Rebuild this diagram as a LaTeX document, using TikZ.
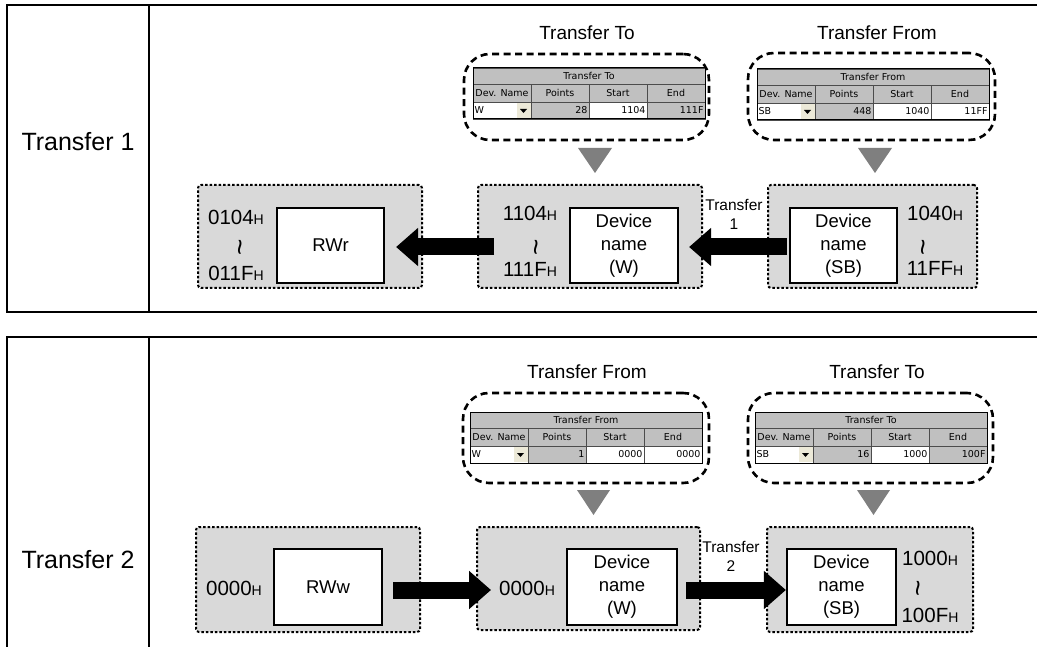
\documentclass[tikz,border=0pt]{standalone}
\usepackage{fontspec}
\setmainfont{Liberation Sans}
\newfontfamily\tabfam{DejaVu Sans}
\usetikzlibrary{arrows.meta,calc}
\definecolor{boxgray}{HTML}{D9D9D9}
\definecolor{tgray}{HTML}{C0C0C0}
\definecolor{trigray}{HTML}{7F7F7F}
\definecolor{btnbeige}{HTML}{ECE9D8}
\newcommand\hx{{\fontsize{14}{14}\selectfont H}}
\newcommand\tabfont{\tabfam\fontsize{9.5}{11}\selectfont}
\tikzset{
  frameline/.style={line width=1.3pt},
  rowlabel/.style={font=\fontsize{25}{28}\selectfont},
  toplabel/.style={font=\fontsize{19}{22}\selectfont},
  callout/.style={draw, line width=2.6pt, dash pattern=on 7pt off 4.5pt, rounded corners=26pt, inner sep=0pt},
  graybox/.style={draw, fill=boxgray, line width=2pt, dash pattern=on 2.5pt off 2pt, rounded corners=3pt, inner sep=0pt},
  whitebox/.style={draw, fill=white, line width=2.2pt, inner sep=0pt, align=center, font=\fontsize{18.5}{23}\selectfont},
  addr/.style={font=\fontsize{20.5}{24}\selectfont, inner sep=0pt},
  wave/.style={font=\fontsize{28}{30}\selectfont, rotate=90, inner sep=0pt},
  xferlabel/.style={align=center, font=\fontsize{15.5}{19}\selectfont, inner sep=0pt},
  bigarrow/.style={line width=17pt, -{Triangle[length=22pt,width=37pt]}},
  tri/.style={fill=trigray},
  tcell/.style={draw=black!70, line width=0.6pt, inner sep=0pt, outer sep=0pt, font=\tabfont},
}
\newcommand\devtable[9]{%
\begin{scope}[shift={(#2,#3)}]
\node[tcell,fill=tgray,minimum width=232pt,minimum height=16pt] (#1t) at (116,8) {#4};
\node[tcell,fill=tgray,minimum width=58pt,minimum height=18pt] (#1c1) at (29,25) {Dev. Name};
\node[tcell,fill=tgray,minimum width=58pt,minimum height=18pt] (#1c2) at (87,25) {Points};
\node[tcell,fill=tgray,minimum width=58pt,minimum height=18pt] (#1c3) at (145,25) {Start};
\node[tcell,fill=tgray,minimum width=58pt,minimum height=18pt] (#1c4) at (203,25) {End};
\node[tcell,fill=white,minimum width=58pt,minimum height=17pt,text width=55pt,align=left] (#1d1) at (29,42.5) {#5};
\node[tcell,fill=btnbeige,draw=none,minimum width=14pt,minimum height=15pt] (#1b) at (50.5,42.5) {};
\fill (#1b.center) ++(-3.5,-1.5) -- ++(7,0) -- ++(-3.5,4) -- cycle;
\node[tcell,fill=tgray,minimum width=58pt,minimum height=17pt,text width=55pt,align=right] (#1d2) at (87,42.5) {#6};
\node[tcell,fill=white,minimum width=58pt,minimum height=17pt,text width=55pt,align=right] (#1d3) at (145,42.5) {#7};
\node[tcell,fill=#9,minimum width=58pt,minimum height=17pt,text width=55pt,align=right] (#1d4) at (203,42.5) {#8};
\draw[line width=1pt] (#1t.north west) rectangle (#1d4.south east);
\end{scope}}
\begin{document}
\begin{tikzpicture}[x=1pt,y=-1pt]
\useasboundingbox (0,0) rectangle (1037,647);
% ---------- frames ----------
\draw[frameline] (1037,5) -- (7,5) -- (7,312) -- (1037,312);
\draw[frameline] (149,5) -- (149,312);
\draw[frameline] (1037,337) -- (7,337) -- (7,647);
\draw[frameline] (149,337) -- (149,647);
\node[rowlabel] (r1) at (78,142) {Transfer 1};
\node[rowlabel] (r2) at (78,560) {Transfer 2};
% ================= Transfer 1 =================
\node[toplabel] (l1) at (587,33) {Transfer To};
\node[toplabel] (l2) at (877,33) {Transfer From};
\node[callout, minimum width=245pt, minimum height=86pt] (co1) at (586.5,97) {};
\node[callout, minimum width=247pt, minimum height=87pt] (co2) at (871.5,96.5) {};
\devtable{ta}{473}{68}{Transfer To}{W}{28}{1104}{111F}{tgray}
\devtable{tb}{757}{69}{Transfer From}{SB}{448}{1040}{11FF}{white}
\fill[tri] (578,148) -- (612,148) -- (595,173) -- cycle;
\fill[tri] (858,148) -- (892,148) -- (875,173) -- cycle;
% boxes
\node[graybox, minimum width=224pt, minimum height=103pt] (A) at (310,236.5) {};
\node[whitebox, minimum width=107pt, minimum height=75pt] (wA) at (330.5,245.5) {RWr};
\node[addr] (a1) at (236,217) {0104\hx};
\node[wave] (a2) at (244,247) {\char`\~};
\node[addr] (a3) at (236,273) {011F\hx};
\node[graybox, minimum width=224pt, minimum height=103pt] (B) at (590,236.5) {};
\node[whitebox, minimum width=108pt, minimum height=75pt] (wB) at (624,245.5) {Device\\name\\(W)};
\node[addr] (b1) at (530,213) {1104\hx};
\node[wave] (b2) at (540,247) {\char`\~};
\node[addr] (b3) at (530,269) {111F\hx};
\node[graybox, minimum width=209pt, minimum height=103pt] (C) at (872.5,236.5) {};
\node[whitebox, minimum width=107pt, minimum height=75pt] (wC) at (843.5,245.5) {Device\\name\\(SB)};
\node[addr] (c1) at (935,213) {1040\hx};
\node[wave] (c2) at (927,247) {\char`\~};
\node[addr] (c3) at (935,268) {11FF\hx};
\node[xferlabel] (x1) at (734,214) {Transfer\\1};
\draw[bigarrow] ($(wC.west)+(-2,1.5)$) -- ($(wB.east)+(10,1.5)$);
\draw[bigarrow] ($(B.west |- wA.east)+(17,1.5)$) -- ($(wA.east)+(11,1.5)$);
% ================= Transfer 2 =================
\node[toplabel] (l3) at (587,372) {Transfer From};
\node[toplabel] (l4) at (877,372) {Transfer To};
\node[callout, minimum width=246pt, minimum height=90pt] (co3) at (586,438) {};
\node[callout, minimum width=245pt, minimum height=90pt] (co4) at (870.5,438) {};
\devtable{tc}{470}{412}{Transfer From}{W}{1}{0000}{0000}{white}
\devtable{td}{755}{412}{Transfer To}{SB}{16}{1000}{100F}{tgray}
\fill[tri] (577,490) -- (610,490) -- (593.5,515) -- cycle;
\fill[tri] (857,490) -- (890,490) -- (873.5,515) -- cycle;
\node[graybox, minimum width=224pt, minimum height=105pt] (A2) at (308,579.5) {};
\node[whitebox, minimum width=108pt, minimum height=76pt] (wA2) at (328,587) {RWw};
\node[addr] (a4) at (234,588) {0000\hx};
\node[graybox, minimum width=223pt, minimum height=103pt] (B2) at (588.5,578.5) {};
\node[whitebox, minimum width=110pt, minimum height=76pt] (wB2) at (622,587) {Device\\name\\(W)};
\node[addr] (b4) at (527,588) {0000\hx};
\node[graybox, minimum width=206pt, minimum height=105pt] (C2) at (870,579.5) {};
\node[whitebox, minimum width=109pt, minimum height=76pt] (wC2) at (841.5,587) {Device\\name\\(SB)};
\node[addr] (c4) at (930,558) {1000\hx};
\node[wave] (c5) at (922,588) {\char`\~};
\node[addr] (c6) at (930,615) {100F\hx};
\node[xferlabel] (x2) at (731,556) {Transfer\\2};
\draw[bigarrow] ($(wA2.east)+(10,3)$) -- ($(B2.west |- wA2.east)+(15,3)$);
\draw[bigarrow] ($(wB2.east)+(8,3)$) -- ($(wC2.west)+(0,3)$);
\end{tikzpicture}
\end{document}
